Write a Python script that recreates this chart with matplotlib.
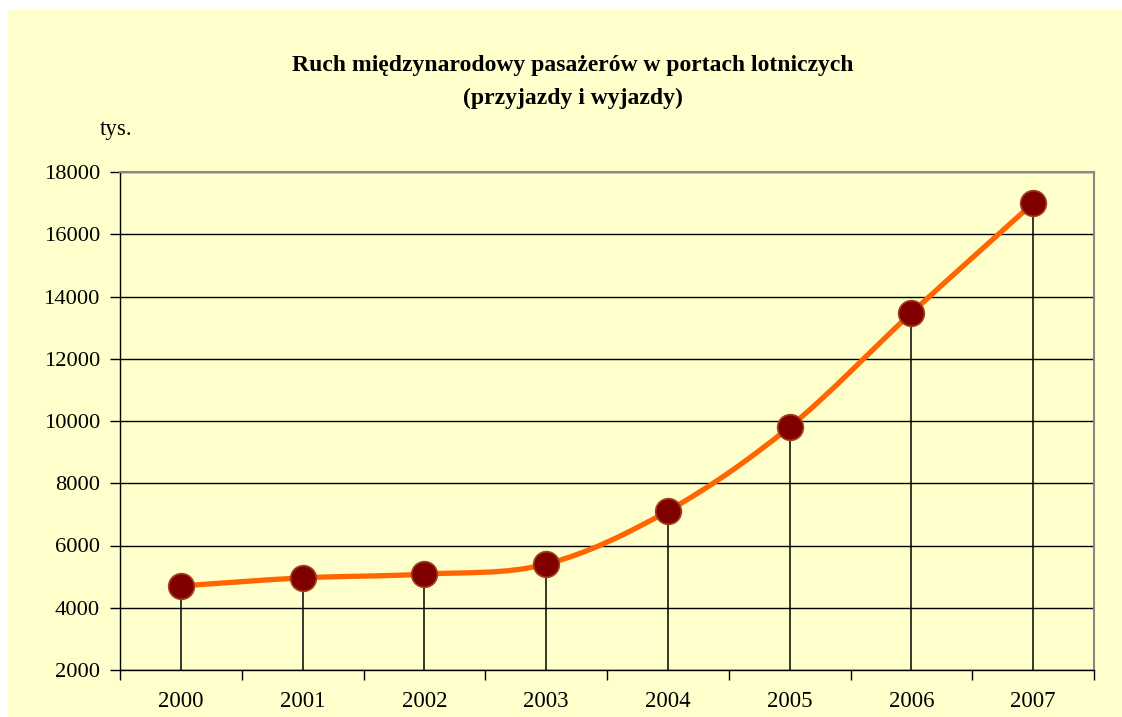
import matplotlib.pyplot as plt
import numpy as np
from matplotlib.path import Path
from matplotlib.patches import PathPatch, Rectangle

years = ["2000", "2001", "2002", "2003", "2004", "2005", "2006", "2007"]
passengers = [4700, 4960, 5080, 5400, 7110, 9810, 13470, 17000]
y_ticks = [2000, 4000, 6000, 8000, 10000, 12000, 14000, 16000, 18000]

plt.rcParams['font.family'] = ['Liberation Serif', 'DejaVu Serif']

W, H = 1122, 717
fig = plt.figure(figsize=(W / 100, H / 100), dpi=100, facecolor='white')
bg = '#FFFFCC'
fig.patches.append(Rectangle((8 / W, 0), 1 - 8 / W, 1 - 10 / H, transform=fig.transFigure,
                             facecolor=bg, edgecolor='none', zorder=-10))

ax = fig.add_axes([120 / W, 1 - 670 / H, (1094 - 120) / W, (670 - 172) / H])
ax.set_facecolor(bg)

x = np.arange(len(years))
y = np.array(passengers, dtype=float)

# excel-like smoothed line (cubic bezier, tension 1/6)
verts = [(x[0], y[0])]
codes = [Path.MOVETO]
for i in range(len(x) - 1):
    p0 = np.array([x[max(i - 1, 0)], y[max(i - 1, 0)]])
    p1 = np.array([x[i], y[i]])
    p2 = np.array([x[i + 1], y[i + 1]])
    p3 = np.array([x[min(i + 2, len(x) - 1)], y[min(i + 2, len(x) - 1)]])
    c1 = p1 + (p2 - p0) / 6
    c2 = p2 - (p3 - p1) / 6
    verts += [tuple(c1), tuple(c2), tuple(p2)]
    codes += [Path.CURVE4] * 3
ax.add_patch(PathPatch(Path(verts, codes), facecolor='none', edgecolor='#FF6600',
                       linewidth=3.8, zorder=3, capstyle='round'))

# drop lines
ax.vlines(x, 2000, y, color='black', linewidth=1.1, zorder=2)
ax.plot(x, y, linestyle='none', marker='o', markersize=18.5, markerfacecolor='#800000',
        markeredgecolor='#A0401A', markeredgewidth=1.2, zorder=4)

ax.set_xlim(-0.5, len(years) - 0.5)
ax.set_ylim(2000, 18000)
ax.set_yticks(y_ticks)
ax.set_yticklabels([str(t) for t in y_ticks])
ax.yaxis.grid(True, color='black', linewidth=1.0)
ax.set_axisbelow(True)

ax.set_xticks(np.arange(-0.5, len(years), 1.0))
ax.set_xticklabels([])
ax.set_xticks(x, minor=True)
ax.set_xticklabels(years, minor=True)
ax.tick_params(axis='x', which='minor', length=0, pad=15, labelsize=16.5)
ax.tick_params(axis='x', which='major', length=7, width=1, direction='out')
ax.tick_params(axis='y', length=7, width=1, direction='out', labelsize=16.2, pad=7.5)

for s in ['top', 'right']:
    ax.spines[s].set_color('#888888')
    ax.spines[s].set_linewidth(1.5)
for s in ['left', 'bottom']:
    ax.spines[s].set_color('black')
    ax.spines[s].set_linewidth(1.0)

fig.text(573 / W, 1 - 66 / H, "Ruch międzynarodowy pasażerów w portach lotniczych",
         ha='center', va='center', fontsize=17, fontweight='bold')
fig.text(573 / W, 1 - 98 / H, "(przyjazdy i wyjazdy)",
         ha='center', va='center', fontsize=17, fontweight='bold')
fig.text(100 / W, 1 - 130 / H, "tys.", ha='left', va='center', fontsize=16.5)

fig.savefig('out.png', dpi=100, facecolor=fig.get_facecolor())
